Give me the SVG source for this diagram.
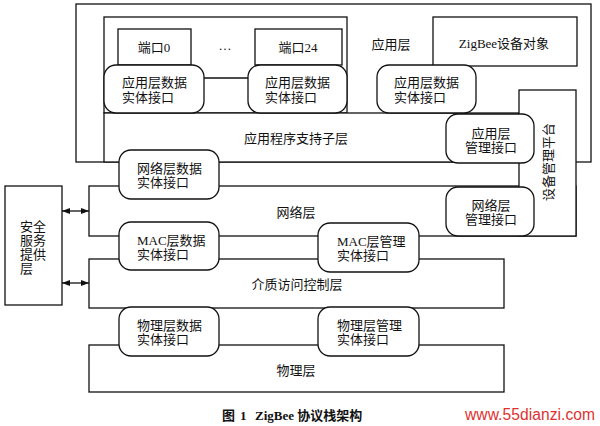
<svg xmlns="http://www.w3.org/2000/svg" width="600" height="426" viewBox="0 0 600 426">
<defs>
<marker id="ah" viewBox="0 0 8 6" refX="8" refY="3" markerWidth="8" markerHeight="6" orient="auto-start-reverse" markerUnits="userSpaceOnUse">
<path d="M0,0 L8,3 L0,6 Z" fill="#111"/>
</marker>
</defs>
<style>
.b{fill:#fff;stroke:#111;stroke-width:1.3}
.t{font-family:"Liberation Serif","Noto Sans CJK SC",serif;font-size:13px;fill:#111}
.m{text-anchor:middle}
.c{fill:none;stroke:#111;stroke-width:1.3}
</style>
<rect width="600" height="426" fill="#fff"/>
<g id="app-layer">
<rect class="b" x="76" y="4" width="515" height="158"/>
<text class="t m" x="391" y="49">应用层</text>
</g>
<g id="port-area"><rect class="b" x="104" y="17" width="243" height="96"/></g>
<g id="zdo"><rect class="b" x="433" y="17" width="144" height="49"/><text class="t m" x="504" y="48">ZigBee设备对象</text></g>
<g id="port0"><rect class="b" x="118" y="29" width="73" height="36"/><text class="t m" x="154" y="52">端口0</text></g>
<g id="ellipsis"><text class="t m" x="225" y="50">…</text></g>
<g id="port24"><rect class="b" x="255" y="29" width="87" height="36"/><text class="t m" x="298" y="52">端口24</text></g>
<g id="aps"><rect class="b" x="104" y="113" width="415" height="49"/><text class="t m" x="296" y="143">应用程序支持子层</text></g>
<g id="nwk"><rect class="b" x="89" y="186" width="487" height="50"/><text class="t m" x="296" y="217">网络层</text></g>
<g id="dev-mgmt"><rect class="b" x="519" y="90" width="57" height="146"/><text class="t m" transform="translate(548.5,162) rotate(-90)" dominant-baseline="central">设备管理平台</text></g>
<g id="mac"><rect class="b" x="89" y="259" width="415" height="49"/><text class="t m" x="297" y="289">介质访问控制层</text></g>
<g id="phy"><rect class="b" x="89" y="345" width="415" height="47"/><text class="t m" x="296" y="375">物理层</text></g>
<g id="ssp"><rect class="b" x="5" y="186" width="57" height="119"/>
<text class="t" font-size="12.5"><tspan x="20" y="231">安全</tspan><tspan x="20" y="245">服务</tspan><tspan x="20" y="259">提供</tspan><tspan x="20" y="273">层</tspan></text></g>
<g id="apde1"><rect class="b" x="104" y="65" width="100" height="48" rx="12"/><text class="t" x="122" y="87">应用层数据</text><text class="t" x="122" y="101.5">实体接口</text></g>
<g id="apde2"><rect class="b" x="248" y="65" width="99" height="48" rx="12"/><text class="t" x="265" y="87">应用层数据</text><text class="t" x="265" y="101.5">实体接口</text></g>
<g id="apde3"><rect class="b" x="377" y="65" width="99" height="48" rx="12"/><text class="t" x="394" y="87">应用层数据</text><text class="t" x="394" y="101.5">实体接口</text></g>
<g id="apme"><rect class="b" x="446" y="114" width="88" height="49" rx="12"/><text class="t m" x="491" y="137.5">应用层</text><text class="t m" x="491" y="152">管理接口</text></g>
<g id="nlme"><rect class="b" x="446" y="187" width="88" height="49" rx="12"/><text class="t m" x="491" y="210">网络层</text><text class="t m" x="491" y="223.5">管理接口</text></g>
<g id="nlde"><rect class="b" x="119" y="150" width="100" height="49" rx="12"/><text class="t" x="137" y="173">网络层数据</text><text class="t" x="137" y="187">实体接口</text></g>
<g id="mcps"><rect class="b" x="119" y="222" width="100" height="48" rx="12"/><text class="t" x="137" y="245">MAC层数据</text><text class="t" x="137" y="259">实体接口</text></g>
<g id="mlme"><rect class="b" x="318" y="223" width="101" height="49" rx="12"/><text class="t" x="337" y="246">MAC层管理</text><text class="t" x="337" y="260">实体接口</text></g>
<g id="pdde"><rect class="b" x="119" y="307" width="100" height="49" rx="12"/><text class="t" x="137" y="330">物理层数据</text><text class="t" x="137" y="344">实体接口</text></g>
<g id="plme"><rect class="b" x="318" y="307" width="101" height="49" rx="12"/><text class="t" x="337" y="330">物理层管理</text><text class="t" x="337" y="344">实体接口</text></g>
<g id="connectors">
<line class="c" x1="204" y1="78" x2="248" y2="78"/>
<line class="c" x1="62" y1="211" x2="89" y2="211" marker-start="url(#ah)" marker-end="url(#ah)"/>
<line class="c" x1="62" y1="283" x2="89" y2="283" marker-start="url(#ah)" marker-end="url(#ah)"/>
</g>
<g id="caption">
<text class="t" x="222" y="420" font-weight="bold">图<tspan x="240">1</tspan><tspan x="255">ZigBee 协议栈架构</tspan></text>
</g>
<g id="watermark"><text x="465" y="420" font-family="Liberation Sans, Arial, sans-serif" font-size="15.6" fill="#e03030" textLength="130">www.55dianzi.com</text></g>
</svg>
